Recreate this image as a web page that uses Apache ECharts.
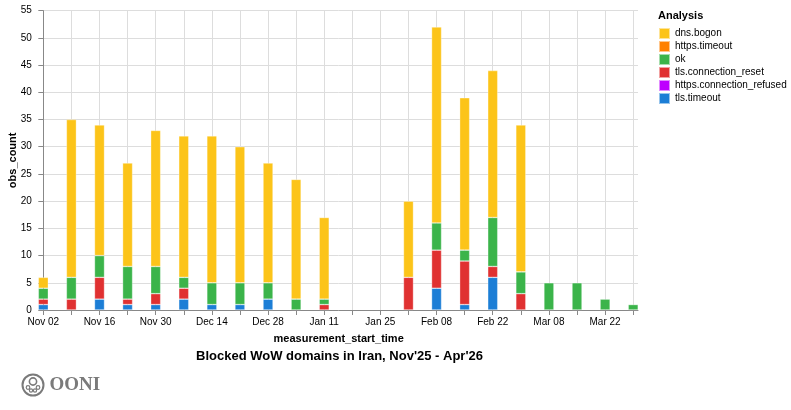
<!DOCTYPE html>
<html>
<head>
<meta charset="utf-8">
<script src="https://cdn.jsdelivr.net/npm/echarts@6/dist/echarts.min.js"></script>
<style>
  html, body { margin: 0; padding: 0; background: #fff; }
  #chart { width: 791px; height: 410px; }
</style>
</head>
<body>
<div id="chart"></div>
<script>
// weekly buckets (week start, UTC)
var weeks = ['2025-11-02', '2025-11-09', '2025-11-16', '2025-11-23', '2025-11-30',
  '2025-12-07', '2025-12-14', '2025-12-21', '2025-12-28', '2026-01-04',
  '2026-01-11', '2026-01-18', '2026-01-25', '2026-02-01', '2026-02-08',
  '2026-02-15', '2026-02-22', '2026-03-01', '2026-03-08', '2026-03-15',
  '2026-03-22', '2026-03-29'];

// obs_count per analysis
var dnsBogon      = [2, 29, 24, 19, 25, 26, 27, 25, 22, 22, 15, 0, 0, 14, 36, 28, 27, 27, 0, 0, 0, 0];
var httpsTimeout  = [0, 0, 0, 0, 0, 0, 0, 0, 0, 0, 0, 0, 0, 0, 0, 0, 0, 0, 0, 0, 0, 0];
var ok            = [2, 4, 4, 6, 5, 2, 4, 4, 3, 2, 1, 0, 0, 0, 5, 2, 9, 4, 5, 5, 2, 1];
var tlsReset      = [1, 2, 4, 1, 2, 2, 0, 0, 0, 0, 1, 0, 0, 6, 7, 8, 2, 3, 0, 0, 0, 0];
var httpsRefused  = [0, 0, 0, 0, 0, 0, 0, 0, 0, 0, 0, 0, 0, 0, 0, 0, 0, 0, 0, 0, 0, 0];
var tlsTimeout    = [1, 0, 2, 1, 1, 2, 1, 1, 2, 0, 0, 0, 0, 0, 4, 1, 6, 0, 0, 0, 0, 0];

// legend order (top of the stack first)
var legendNames = ['dns.bogon', 'https.timeout', 'ok', 'tls.connection_reset', 'https.connection_refused', 'tls.timeout'];

var yTicks = [0, 55, 5]; // min, max, step

var DAY = 24 * 3600 * 1000;
var MONTHS = ['Jan', 'Feb', 'Mar', 'Apr', 'May', 'Jun', 'Jul', 'Aug', 'Sep', 'Oct', 'Nov', 'Dec'];

function toTime(s) {
  var p = s.split('-');
  return Date.UTC(+p[0], +p[1] - 1, +p[2]);
}
// x axis runs in days counted from the first week
var t0 = toTime(weeks[0]);
function toDay(s) { return Math.round((toTime(s) - t0) / DAY); }
function fmtDay(v) {
  var d = new Date(t0 + v * DAY);
  return MONTHS[d.getUTCMonth()] + ' ' + ('0' + d.getUTCDate()).slice(-2);
}

var weekDays = weeks.map(toDay);
var labelDays = weekDays.filter(function (t, i) { return i % 2 == 0; });

// value first so the stack runs on it, day second (encode swaps them back)
function pairs(arr) {
  return arr.map(function (v, i) { return [v > 0 ? v : null, weekDays[i]]; });
}

// bottom -> top
var stackOrder = [
  { name: 'tls.timeout', data: tlsTimeout, color: '#1c7ed6' },
  { name: 'https.connection_refused', data: httpsRefused, color: '#be00ff' },
  { name: 'tls.connection_reset', data: tlsReset, color: '#e03131' },
  { name: 'ok', data: ok, color: '#3bb44a' },
  { name: 'https.timeout', data: httpsTimeout, color: '#ff8000' },
  { name: 'dns.bogon', data: dnsBogon, color: '#fcc419' }
];

var font = "Helvetica, 'Liberation Sans', Arial, sans-serif";
var chart = echarts.init(document.getElementById('chart'));

var option = {
  animation: false,
  textStyle: { fontFamily: font },
  grid: { left: 39.3, right: 153, top: 10.7, bottom: 100, containLabel: false, outerBoundsMode: 'none' },
  legend: {
    orient: 'vertical',
    left: 658,
    top: 27,
    padding: 0,
    icon: 'rect',
    itemWidth: 11,
    itemHeight: 11,
    itemGap: 0,
    selectedMode: false,
    textStyle: { fontSize: 10, lineHeight: 11, color: '#000', fontFamily: font },
    data: legendNames
  },
  xAxis: {
    type: 'value',
    min: -1,
    max: 148.2,
    name: 'measurement_start_time',
    nameLocation: 'middle',
    nameGap: 23,
    nameMoveOverlap: false,
    nameTextStyle: { fontSize: 11, fontWeight: 'bold', color: '#000', fontFamily: font },
    axisLine: { lineStyle: { color: '#888', width: 1 } },
    axisTick: { show: true, customValues: weekDays, length: 5, lineStyle: { color: '#888' } },
    axisLabel: {
      customValues: labelDays,
      formatter: fmtDay,
      fontSize: 10,
      color: '#000',
      margin: 7,
      fontFamily: font
    },
    splitLine: { show: true, lineStyle: { color: '#ddd', width: 1 } }
  },
  yAxis: {
    type: 'value',
    min: yTicks[0],
    max: yTicks[1],
    interval: yTicks[2],
    name: 'obs_count',
    nameLocation: 'middle',
    nameGap: 21,
    nameMoveOverlap: false,
    nameTextStyle: { fontSize: 11, fontWeight: 'bold', color: '#000', fontFamily: font },
    axisLine: { show: true, lineStyle: { color: '#888', width: 1 } },
    axisTick: { show: true, length: 5, lineStyle: { color: '#888' } },
    axisLabel: { fontSize: 10, color: '#000', margin: 7.5, fontFamily: font },
    splitLine: { show: true, lineStyle: { color: '#ddd', width: 1 } }
  },
  series: stackOrder.map(function (s) {
    return {
      name: s.name,
      type: 'bar',
      stack: 'total',
      barWidth: 10,
      encode: { x: 1, y: 0 },
      data: pairs(s.data),
      itemStyle: { color: s.color, borderColor: 'rgba(255,255,255,0.55)', borderWidth: 0.6 }
    };
  }),
  graphic: [
    {
      type: 'text',
      left: 658,
      top: 10,
      style: { text: 'Analysis', font: 'bold 11px ' + font, fill: '#000' }
    },
    {
      type: 'text',
      left: 196,
      top: 350,
      style: { text: "Blocked WoW domains in Iran, Nov'25 - Apr'26", font: 'bold 13px ' + font, fill: '#000' }
    },
    // OONI logo
    {
      type: 'group',
      left: 20,
      top: 372,
      children: [
        { type: 'circle', shape: { cx: 11.5, cy: 11.5, r: 10.5 }, style: { fill: 'none', stroke: '#7a7a7a', lineWidth: 2 } },
        { type: 'circle', shape: { cx: 11.5, cy: 8, r: 3.6 }, style: { fill: 'none', stroke: '#7a7a7a', lineWidth: 1.6 } },
        { type: 'circle', shape: { cx: 6.5, cy: 14, r: 1.8 }, style: { fill: 'none', stroke: '#7a7a7a', lineWidth: 1.2 } },
        { type: 'circle', shape: { cx: 16.5, cy: 14, r: 1.8 }, style: { fill: 'none', stroke: '#7a7a7a', lineWidth: 1.2 } },
        { type: 'circle', shape: { cx: 9.5, cy: 17, r: 1.6 }, style: { fill: 'none', stroke: '#7a7a7a', lineWidth: 1.2 } },
        { type: 'circle', shape: { cx: 13.5, cy: 17, r: 1.6 }, style: { fill: 'none', stroke: '#7a7a7a', lineWidth: 1.2 } },
        {
          type: 'text',
          x: 28,
          y: 11.5,
          style: { text: 'OONI', font: "bold 19px 'Liberation Serif', 'DejaVu Serif', serif", fill: '#7a7a7a', verticalAlign: 'middle' }
        }
      ]
    }
  ]
};

chart.setOption(option);
</script>
</body>
</html>
